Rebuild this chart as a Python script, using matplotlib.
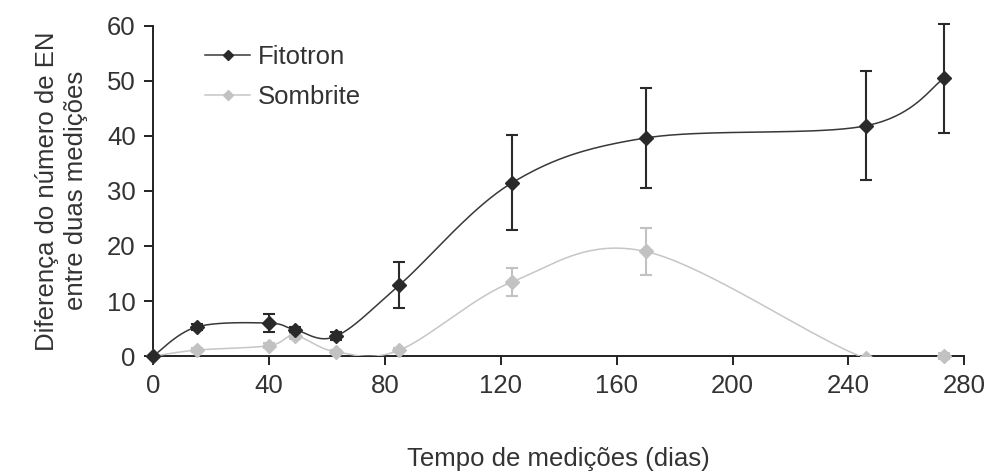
import numpy as np
import matplotlib
matplotlib.use('Agg')
import matplotlib.pyplot as plt

plt.rcParams['font.family'] = ['Liberation Sans', 'DejaVu Sans']

# dias de medicao
dias = [0, 15, 40, 49, 63, 85, 124, 170, 246, 273]

fitotron = [0, 5.3, 6.0, 4.8, 3.6, 12.9, 31.5, 39.6, 41.8, 50.4]
fitotron_err = [0, 0.6, 1.7, 0.5, 0.7, 4.1, 8.6, 9.0, 9.9, 9.9]

sombrite = [0, 1.1, 1.9, 3.7, 0.8, 1.1, 13.5, 19.0, -0.4, 0.0]
sombrite_err = [0, 0.3, 0.5, 0.5, 0.3, 0.3, 2.5, 4.3, 0.3, 0.5]

xticks = [0, 40, 80, 120, 160, 200, 240, 280]
yticks = [0, 10, 20, 30, 40, 50, 60]

fs = 18.5
txt = '#333333'


def suaviza(x, y, n=40):
    # curva suavizada tipo excel (bezier catmull-rom)
    p = np.column_stack([x, y]).astype(float)
    p = np.vstack([p[0], p, p[-1]])
    out = []
    for i in range(1, len(p) - 2):
        p0, p1, p2, p3 = p[i - 1], p[i], p[i + 1], p[i + 2]
        c1 = p1 + (p2 - p0) / 6
        c2 = p2 - (p3 - p1) / 6
        t = np.linspace(0, 1, n)[:, None]
        seg = ((1 - t) ** 3) * p1 + 3 * ((1 - t) ** 2) * t * c1 + 3 * (1 - t) * t ** 2 * c2 + t ** 3 * p2
        out.append(seg)
    out = np.vstack(out)
    return out[:, 0], out[:, 1]


fig = plt.figure(figsize=(9.88, 4.73), dpi=100)
ax = fig.add_axes([0.155, 0.247, 0.821, 0.699])

series = [
    (fitotron, fitotron_err, '#383838', '#2a2a2a', 'Fitotron', 4),
    (sombrite, sombrite_err, '#c6c6c6', '#c2c2c2', 'Sombrite', 3),
]

for vals, err, lc, mc, nome, z in series:
    sx, sy = suaviza(dias, vals)
    ax.plot(sx, sy, color=lc, lw=1.1, zorder=z)
    vals = np.array(vals)
    err = np.array(err)
    d = np.array(dias)
    ok = vals >= 0
    ax.errorbar(d[ok], vals[ok], yerr=err[ok], fmt='D', color=mc, ms=7,
                ecolor=mc, elinewidth=1.5, capsize=4.5, capthick=1.5,
                clip_on=False, zorder=z + 1)
    ax.errorbar(d[~ok], vals[~ok], yerr=err[~ok], fmt='D', color=mc, ms=7,
                ecolor=mc, elinewidth=1.5, capsize=4.5, capthick=1.5,
                zorder=z + 1)
    ax.plot([], [], color=lc, lw=1.1, marker='D', ms=5.5, mfc=mc, mec=mc, label=nome)

ax.set_xlim(0, 280)
ax.set_ylim(0, 60)
ax.set_xticks(xticks)
ax.set_yticks(yticks)

for s in ['top', 'right']:
    ax.spines[s].set_visible(False)
for s in ['left', 'bottom']:
    ax.spines[s].set_color('#222222')
    ax.spines[s].set_linewidth(1.4)
    ax.spines[s].set_zorder(2)

ax.tick_params(direction='out', length=6.5, width=1.4, colors='#222222',
               labelsize=fs, labelcolor=txt)
ax.tick_params(axis='x', pad=6)
ax.tick_params(axis='y', pad=6)

ax.set_xlabel('Tempo de medições (dias)', fontsize=fs, color=txt)
ax.xaxis.set_label_coords(0.5, -0.275)
ax.set_ylabel('Diferença do número de EN\nentre duas medições', fontsize=fs,
              color=txt, linespacing=1.3)
ax.yaxis.set_label_coords(-0.08, 0.5)

ax.legend(loc='upper left', bbox_to_anchor=(0.064, 0.94), frameon=False,
          fontsize=fs, handlelength=1.75, handletextpad=0.3, labelspacing=0.62,
          borderpad=0, borderaxespad=0, labelcolor=txt)

fig.savefig('out.png', dpi=100)
